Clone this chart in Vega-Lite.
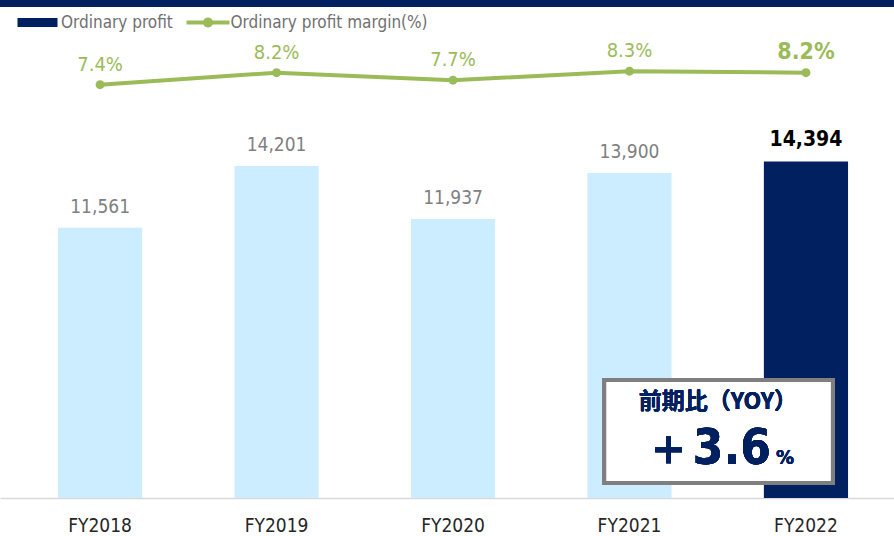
{
  "$schema": "https://vega.github.io/schema/vega-lite/v6.json",
  "padding": 0,
  "spacing": 0,
  "bounds": "flush",
  "background": "white",
  "config": {"view": {"stroke": null}, "font": "DejaVu Sans Condensed"},
  "vconcat": [
    {
      "width": 894,
      "height": 7,
      "view": {"fill": "#002060", "stroke": null},
      "data": {"values": [{"t": ""}]},
      "mark": {"type": "text", "fontSize": 1, "baseline": "top"},
      "encoding": {"text": {"field": "t"}}
    },
    {
      "width": 894,
      "height": 491,
      "data": {
        "values": [
          {"year": "FY2018", "profit": 11561, "margin": 0.074},
          {"year": "FY2019", "profit": 14201, "margin": 0.082},
          {"year": "FY2020", "profit": 11937, "margin": 0.077},
          {"year": "FY2021", "profit": 13900, "margin": 0.083},
          {"year": "FY2022", "profit": 14394, "margin": 0.082}
        ]
      },
      "encoding": {
        "x": {
          "field": "year",
          "type": "nominal",
          "scale": {"paddingInner": 0.523, "paddingOuter": 0.2946, "align": 0.558, "round": false},
          "axis": {
            "title": null,
            "labelAngle": 0,
            "labelFontSize": 19,
            "labelColor": "#262626",
            "labelPadding": 18,
            "ticks": false,
            "tickSize": 0,
            "domainColor": "#D9D9D9",
            "domainWidth": 1.5,
            "grid": false
          }
        }
      },
      "layer": [
        {
          "encoding": {
            "y": {"type": "quantitative", "scale": {"domain": [0, 21000], "nice": false, "zero": true}, "axis": null}
          },
          "layer": [
            {
              "mark": {"type": "bar"},
              "encoding": {
                "y": {"field": "profit", "type": "quantitative"},
                "fill": {
                  "condition": {"test": "datum.year != 'FY2022'", "value": "#CCECFF"},
                  "datum": "Ordinary profit",
                  "scale": {"range": ["#002060"]},
                  "legend": {
                    "title": null,
                    "orient": "none",
                    "legendX": 29,
                    "legendY": 14,
                    "padding": 0,
                    "symbolType": "M-4,-0.9H4V0.9H-4Z",
                    "symbolSize": 100,
                    "symbolStrokeWidth": 0,
                    "labelFontSize": 17,
                    "labelColor": "#707070",
                    "labelOffset": 15,
                    "labelLimit": 400
                  }
                }
              }
            },
            {
              "transform": [{"filter": "datum.year != 'FY2022'"}],
              "mark": {"type": "text", "baseline": "alphabetic", "dy": -15, "fontSize": 19, "color": "#808080"},
              "encoding": {
                "y": {"field": "profit", "type": "quantitative"},
                "text": {"field": "profit", "type": "quantitative", "format": ","}
              }
            },
            {
              "transform": [{"filter": "datum.year == 'FY2022'"}],
              "mark": {"type": "text", "baseline": "alphabetic", "dy": -15, "fontSize": 21, "fontWeight": "bold", "color": "#000000"},
              "encoding": {
                "y": {"field": "profit", "type": "quantitative"},
                "text": {"field": "profit", "type": "quantitative", "format": ","}
              }
            },
            {
              "mark": {"type": "rect", "fill": "white", "fillOpacity": 0.85, "stroke": "#7F7F7F", "strokeWidth": 4},
              "encoding": {
                "x": {"datum": "FY2021", "bandPosition": 0.2},
                "x2": {"datum": "FY2022", "bandPosition": 0.82},
                "y": {"datum": 5047},
                "y2": {"datum": 642}
              }
            },
            {
              "mark": {"type": "text", "text": "前期比（YOY）", "font": "Noto Sans CJK JP", "fontWeight": "bold", "fontSize": 23, "color": "#002060", "baseline": "middle", "align": "center"},
              "encoding": {
                "x": {"datum": "FY2021", "bandPosition": 1.55},
                "y": {"datum": 4106}
              }
            },
            {
              "mark": {"type": "text", "text": "＋3.6", "fontWeight": "bold", "fontSize": 49, "color": "#002060", "baseline": "alphabetic", "align": "right"},
              "encoding": {
                "x": {"datum": "FY2022", "bandPosition": 0.083},
                "y": {"datum": 1441}
              }
            },
            {
              "mark": {"type": "text", "text": "%", "fontWeight": "bold", "fontSize": 20, "color": "#002060", "baseline": "alphabetic", "align": "left"},
              "encoding": {
                "x": {"datum": "FY2022", "bandPosition": 0.143},
                "y": {"datum": 1441}
              }
            }
          ]
        },
        {
          "encoding": {
            "y": {"field": "margin", "type": "quantitative", "scale": {"domain": [-0.2015, 0.1258], "nice": false, "zero": false}, "axis": null}
          },
          "layer": [
            {
              "mark": {"type": "line", "strokeWidth": 4},
              "encoding": {
                "stroke": {
                  "datum": "Ordinary profit margin(%)",
                  "scale": {"range": ["#9BBB59"]},
                  "legend": {
                    "title": null,
                    "orient": "none",
                    "legendX": 199.5,
                    "legendY": 14,
                    "padding": 0,
                    "symbolType": "M-4.3,-0.4H-0.917A1,1 0 0 1 0.917,-0.4H4.3V0.4H0.917A1,1 0 0 1 -0.917,0.4H-4.3Z",
                    "symbolSize": 100,
                    "symbolFillColor": "#9BBB59",
                    "symbolStrokeWidth": 0,
                    "labelFontSize": 17,
                    "labelColor": "#707070",
                    "labelOffset": 14,
                    "labelLimit": 400
                  }
                }
              }
            },
            {
              "mark": {"type": "point", "filled": true, "size": 80, "color": "#9BBB59", "opacity": 1}
            },
            {
              "transform": [{"filter": "datum.year != 'FY2022'"}],
              "mark": {"type": "text", "baseline": "alphabetic", "dy": -14, "fontSize": 20, "color": "#9BBB59"},
              "encoding": {
                "text": {"field": "margin", "type": "quantitative", "format": ".1%"}
              }
            },
            {
              "transform": [{"filter": "datum.year == 'FY2022'"}],
              "mark": {"type": "text", "baseline": "alphabetic", "dy": -14, "fontSize": 23, "fontWeight": "bold", "color": "#9BBB59"},
              "encoding": {
                "text": {"field": "margin", "type": "quantitative", "format": ".1%"}
              }
            }
          ]
        }
      ],
      "resolve": {"scale": {"y": "independent"}}
    }
  ]
}
